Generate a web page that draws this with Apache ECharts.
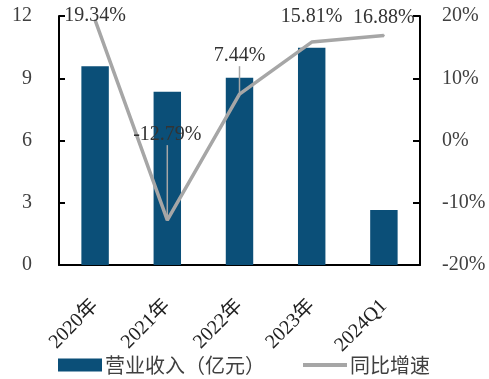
<!DOCTYPE html>
<html><head><meta charset="utf-8">
<script src="https://cdn.jsdelivr.net/npm/echarts@6/dist/echarts.min.js"></script>
<style>html,body{margin:0;padding:0;background:#fff}#c{width:489px;height:379px}</style>
</head><body><div id="c"></div>
<script>
const categories = ['2020年', '2021年', '2022年', '2023年', '2024Q1'];
const revenue = [9.58, 8.35, 9.03, 10.47, 2.65];
const growth = [19.34, -12.79, 7.44, 15.81, 16.88];
const leftTicks = {min: 0, max: 12, interval: 3};
const rightTicks = {min: -20, max: 20, interval: 10};
const seriesNames = ['营业收入（亿元）', '同比增速'];

const serif = '"Liberation Serif", "Noto Sans CJK SC", serif';
const labelDy = [12, -69, -22, -9, -2];
const showLeader = [false, true, true, false, false];

const chart = echarts.init(document.getElementById('c'));
chart.setOption({
  animation: false,
  grid: {left: 59, right: 69, top: 16, bottom: 114, containLabel: false},
  legend: {
    left: 53, top: 350, itemWidth: 44, itemHeight: 13, itemGap: 36,
    textStyle: {fontSize: 20, color: '#404040', fontFamily: '"Noto Sans CJK SC", sans-serif', padding: [0, 0, 0, -2]},
    data: [
      {name: seriesNames[0], icon: 'rect'},
      {name: seriesNames[1], itemStyle: {opacity: 0}, lineStyle: {width: 4}}
    ]
  },
  xAxis: {
    type: 'category', data: categories,
    axisLine: {lineStyle: {color: '#000', width: 2}},
    axisTick: {inside: true, length: 7, lineStyle: {color: '#000', width: 2}},
    axisLabel: {rotate: 45, margin: 38, fontSize: 20, color: '#222', fontFamily: serif, interval: 0}
  },
  yAxis: [
    {
      type: 'value', min: leftTicks.min, max: leftTicks.max, interval: leftTicks.interval,
      splitLine: {show: false},
      axisLine: {show: true, lineStyle: {color: '#000', width: 2}},
      axisTick: {show: true, inside: true, length: 6, lineStyle: {color: '#000', width: 2}},
      axisLabel: {margin: 27, fontSize: 20, color: '#404040', fontFamily: serif}
    },
    {
      type: 'value', min: rightTicks.min, max: rightTicks.max, interval: rightTicks.interval,
      splitLine: {show: false},
      axisLine: {show: true, lineStyle: {color: '#000', width: 2}},
      axisTick: {show: true, inside: true, length: 7, lineStyle: {color: '#000', width: 2}},
      axisLabel: {margin: 22, fontSize: 20, color: '#404040', fontFamily: serif, formatter: '{value}%'}
    }
  ],
  series: [
    {
      name: seriesNames[0], type: 'bar', data: revenue, barWidth: '38%',
      itemStyle: {color: '#0b4f78'}
    },
    {
      name: seriesNames[1], type: 'line', yAxisIndex: 1,
      data: growth.map((v, i) => ({value: v, labelLine: {show: showLeader[i]}})),
      symbol: 'circle', symbolSize: 2, showSymbol: true,
      lineStyle: {color: '#a6a6a6', width: 3.5},
      itemStyle: {color: '#a6a6a6'},
      label: {show: true, position: 'top', distance: 5, fontSize: 20, color: '#333', fontFamily: serif,
              formatter: p => p.value.toFixed(2) + '%'},
      labelLine: {show: true, lineStyle: {color: '#a6a6a6', width: 1.5}},
      labelLayout: p => ({dy: labelDy[p.dataIndex]})
    }
  ]
});
</script></body></html>
